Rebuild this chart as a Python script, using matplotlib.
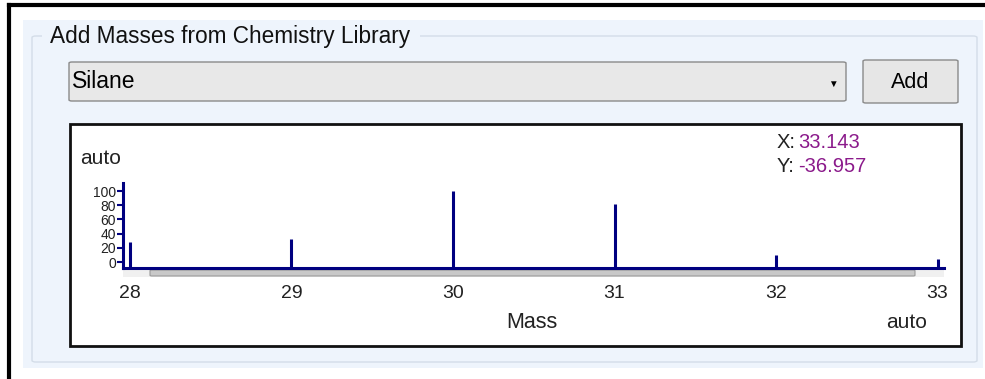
import matplotlib.pyplot as plt
from matplotlib.patches import Rectangle, FancyBboxPatch

# peak list for Silane (mass, relative intensity)
masses = [28, 29, 30, 31, 32, 33]
intensity = [28, 32, 100, 82, 10, 4]
x_ticks = [28, 29, 30, 31, 32, 33]
y_ticks = [0, 20, 40, 60, 80, 100]

W, H = 985, 379
NAVY = '#000080'
PANEL = '#eef4fc'


def fx(px):
    return px / W


def fy(py):
    return 1 - py / H


def make_chart():
    fig = plt.figure(figsize=(W / 100, H / 100), dpi=100)
    fig.patch.set_facecolor('white')
    plt.rcParams['font.family'] = ['Liberation Sans', 'DejaVu Sans']

    # window frame and group box
    fig.add_artist(plt.Line2D([fx(9), fx(9)], [fy(5), fy(379)], color='black', lw=3))
    fig.add_artist(plt.Line2D([fx(9), fx(985)], [fy(5), fy(5)], color='black', lw=3))
    fig.add_artist(Rectangle((fx(23), fy(368)), fx(960), fy(20) - fy(368),
                             facecolor=PANEL, edgecolor='none'))
    fig.add_artist(FancyBboxPatch((fx(32), fy(362)), fx(945), fy(36) - fy(362),
                                  boxstyle='round,pad=0,rounding_size=0.004',
                                  facecolor=PANEL, edgecolor='#d4dde8', lw=1))
    fig.add_artist(Rectangle((fx(42), fy(46)), fx(378), fy(24) - fy(46),
                             facecolor=PANEL, edgecolor='none'))
    fig.text(fx(50), fy(36), 'Add Masses from Chemistry Library', fontsize=16.3,
             va='center', ha='left', color='#111111')

    # combo box
    fig.add_artist(FancyBboxPatch((fx(69), fy(101)), fx(777), fy(62) - fy(101),
                                  boxstyle='round,pad=0,rounding_size=0.003',
                                  facecolor='#e8e8e8', edgecolor='#8a8a8a', lw=1))
    fig.text(fx(72), fy(82), 'Silane', fontsize=16.5, va='center', ha='left')
    fig.text(fx(833), fy(84), '\u25bc', fontsize=7, va='center', ha='center')

    # Add button
    fig.add_artist(FancyBboxPatch((fx(863), fy(103)), fx(95), fy(60) - fy(103),
                                  boxstyle='round,pad=0,rounding_size=0.003',
                                  facecolor='#e6e6e6', edgecolor='#8a8a8a', lw=1))
    fig.text(fx(910), fy(82), 'Add', fontsize=15.5, va='center', ha='center')

    # chart box
    fig.add_artist(Rectangle((fx(70), fy(346)), fx(891), fy(124) - fy(346),
                             facecolor='white', edgecolor='#111111', lw=2))

    # scrollbar under the axis
    fig.add_artist(Rectangle((fx(123), fy(277)), fx(821), fy(269) - fy(277),
                             facecolor='#f0f0f0', edgecolor='none'))
    fig.add_artist(FancyBboxPatch((fx(150), fy(276)), fx(765), fy(270) - fy(276),
                                  boxstyle='round,pad=0,rounding_size=0.002',
                                  facecolor='#c8c8c8', edgecolor='#9a9a9a', lw=0.8))

    ax = fig.add_axes([fx(123), fy(268), fx(944) - fx(123), fy(183) - fy(268)])
    ax.set_zorder(5)
    ax.set_facecolor('none')
    ax.set_xlim(27.957, 33.04)
    ax.set_ylim(-8.45, 111.3)
    ax.vlines(masses, -8.45, intensity, color=NAVY, lw=2.2)

    for side in ['top', 'right']:
        ax.spines[side].set_visible(False)
    for side in ['left', 'bottom']:
        ax.spines[side].set_color(NAVY)
        ax.spines[side].set_linewidth(2.2)

    ax.set_yticks(y_ticks)
    ax.set_yticklabels([str(v) for v in y_ticks])
    ax.tick_params(axis='y', colors=NAVY, length=4, width=1.5, pad=1,
                   labelsize=10, labelcolor='#222222')
    ax.set_xticks(x_ticks)
    ax.set_xticklabels([str(v) for v in x_ticks])
    ax.tick_params(axis='x', length=0, pad=12, labelsize=14, labelcolor='#222222')

    fig.text(fx(80), fy(158), 'auto', fontsize=15, va='center', ha='left', color='#222222')
    fig.text(fx(532), fy(322), 'Mass', fontsize=15.5, va='center', ha='center', color='#222222')
    fig.text(fx(907), fy(322), 'auto', fontsize=15, va='center', ha='center', color='#222222')
    fig.text(fx(777), fy(143), 'X:', fontsize=14.5, va='center', ha='left', color='#222222')
    fig.text(fx(798), fy(143), '33.143', fontsize=14.5, va='center', ha='left', color='#8b1a8b')
    fig.text(fx(777), fy(167), 'Y:', fontsize=14.5, va='center', ha='left', color='#222222')
    fig.text(fx(798), fy(167), '-36.957', fontsize=14.5, va='center', ha='left', color='#8b1a8b')

    fig.savefig('out.png', dpi=100)


if __name__ == '__main__':
    make_chart()
